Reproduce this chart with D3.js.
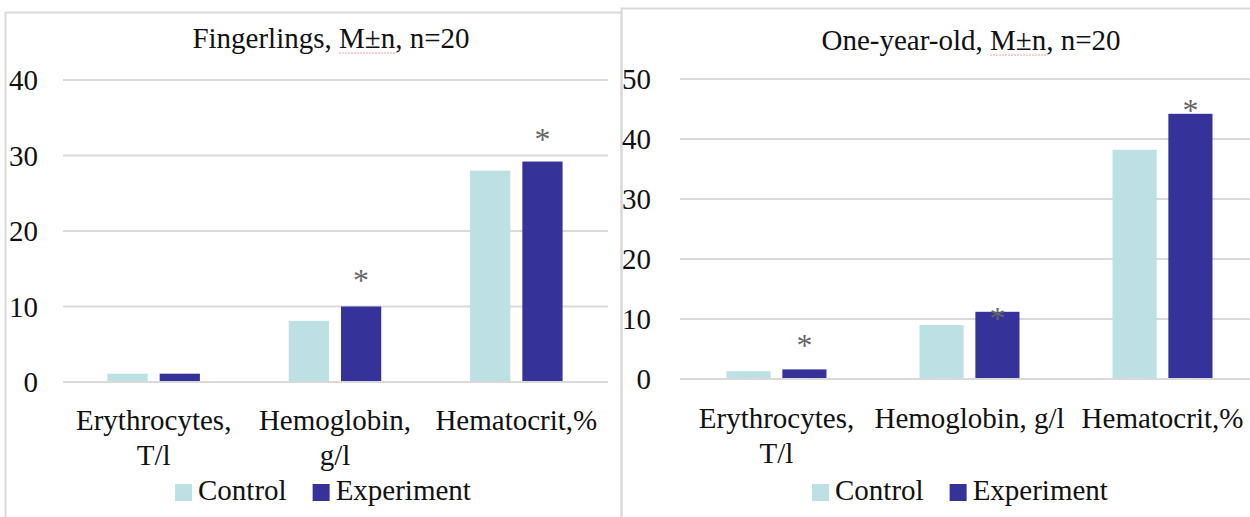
<!DOCTYPE html>
<html><head><meta charset="utf-8">
<script src="https://cdn.jsdelivr.net/npm/d3@7"></script>
<style>body{margin:0;background:#fff;} svg{display:block;}</style>
</head><body>
<svg id="c" width="1250" height="517"></svg>
<script>
const categories = ["Erythrocytes, T/l", "Hemoglobin, g/l", "Hematocrit,%"];
const series = ["Control", "Experiment"];
const colors = ["#bce0e3", "#35339a"];
// Fingerlings
const fingerControl = [1.1, 8.1, 28.0];
const fingerExperiment = [1.1, 10.0, 29.2];
const fingerStars = [null, 14.4, 33.1];      // asterisk positions (value units), experiment bars
const fingerTicks = [0, 10, 20, 30, 40];
const fingerLabelLines = [["Erythrocytes,", "T/l"], ["Hemoglobin,", "g/l"], ["Hematocrit,%"]];
// One-year-old
const yearControl = [1.3, 9.0, 38.2];
const yearExperiment = [1.6, 11.2, 44.2];
const yearStars = [6.7, 11.3, 46.0];
const yearTicks = [0, 10, 20, 30, 40, 50];
const yearLabelLines = [["Erythrocytes,", "T/l"], ["Hemoglobin, g/l"], ["Hematocrit,%"]];

const FONT = "'Liberation Serif', 'Times New Roman', serif";
const FS = 29;
const svg = d3.select("#c");

// panel borders
svg.append("path").attr("d", "M5.5,520 V12.5 H621.5 V520").attr("fill", "none").attr("stroke", "#d9d9d9").attr("stroke-width", 2);
svg.append("path").attr("d", "M621.5,520 V8.5 H1260").attr("fill", "none").attr("stroke", "#d9d9d9").attr("stroke-width", 2);

function panel(o) {
  const g = svg.append("g");
  const x0 = d3.scaleBand().domain(categories).range([o.x0, o.x1]).paddingInner(o.pad).paddingOuter(o.pad / 2);
  const x1 = d3.scaleBand().domain(series).range([0, x0.bandwidth()]).paddingInner(o.inner);
  const y = d3.scaleLinear().domain([0, d3.max(o.ticks)]).range([o.yBase, o.yTop]);

  const yAxis = d3.axisLeft(y).tickValues(o.ticks).tickSize(0).tickFormat(d3.format("d"));
  const ga = g.append("g").attr("transform", `translate(${o.labelX},0)`).call(yAxis);
  ga.select(".domain").remove();
  ga.selectAll("text").attr("font-family", FONT).attr("font-size", FS).attr("fill", "#111").attr("x", 0).attr("dy", "0.34em");
  g.append("g").selectAll("line").data(o.ticks).join("line")
    .attr("x1", o.x0).attr("x2", o.gridX1).attr("y1", d => y(d)).attr("y2", d => y(d))
    .attr("stroke", "#d9d9d9").attr("stroke-width", 2);

  const vals = [o.control, o.experiment];
  categories.forEach((c, i) => {
    series.forEach((s, j) => {
      g.append("rect").attr("x", x0(c) + x1(s)).attr("width", x1.bandwidth())
        .attr("y", y(vals[j][i])).attr("height", y(0) - y(vals[j][i]) - 1)
        .attr("fill", colors[j]);
    });
    if (o.stars[i] != null) {
      g.append("text").attr("x", x0(c) + x1("Experiment") + x1.bandwidth() / 2)
        .attr("y", y(o.stars[i])).attr("dy", "0.55em").attr("text-anchor", "middle")
        .attr("font-family", FONT).attr("font-size", 32).attr("fill", "#666").text("*");
    }
    const lines = o.labelLines[i];
    const t = g.append("text").attr("text-anchor", "middle").attr("font-family", FONT).attr("font-size", FS).attr("fill", "#111");
    lines.forEach((ln, k) => {
      t.append("tspan").attr("x", x0(c) + x0.bandwidth() / 2).attr("y", o.labelY + k * 35).text(ln);
    });
  });

  const tt = g.append("text").attr("x", o.titleX).attr("y", o.titleY).attr("text-anchor", "middle")
    .attr("font-family", FONT).attr("font-size", FS).attr("fill", "#111").text(o.title);
  const node = tt.node();
  const idx = o.title.indexOf("M±n");
  const bb = node.getBBox();
  const sx = bb.x + node.getSubStringLength(0, idx);
  const sw = node.getSubStringLength(idx, 3);
  g.append("line").attr("x1", sx).attr("x2", sx + sw).attr("y1", o.titleY + 5).attr("y2", o.titleY + 5)
    .attr("stroke", "#f2a0a0").attr("stroke-width", 1).attr("stroke-dasharray", "2,1");

  const lg = g.append("g");
  let lx = o.legendX;
  series.forEach((s, j) => {
    lg.append("rect").attr("x", lx).attr("y", 484).attr("width", 17).attr("height", 17).attr("fill", colors[j]);
    const tx = lg.append("text").attr("x", lx + 23).attr("y", 500).attr("font-family", FONT).attr("font-size", FS).attr("fill", "#111").text(s);
    lx += 23 + tx.node().getComputedTextLength() + 26;
  });
}

panel({x0: 63, x1: 607, gridX1: 608, pad: 0.49, inner: 0.23, yBase: 382, yTop: 80, ticks: fingerTicks, labelX: 38,
  control: fingerControl, experiment: fingerExperiment, stars: fingerStars, labelLines: fingerLabelLines, labelY: 430,
  title: "Fingerlings, M±n, n=20", titleX: 331, titleY: 48, legendX: 175});
panel({x0: 680, x1: 1259, gridX1: 1260, pad: 0.482, inner: 0.21, yBase: 379, yTop: 79, ticks: yearTicks, labelX: 651,
  control: yearControl, experiment: yearExperiment, stars: yearStars, labelLines: yearLabelLines, labelY: 428,
  title: "One-year-old, M±n, n=20", titleX: 971, titleY: 50, legendX: 812});
</script>
</body></html>
